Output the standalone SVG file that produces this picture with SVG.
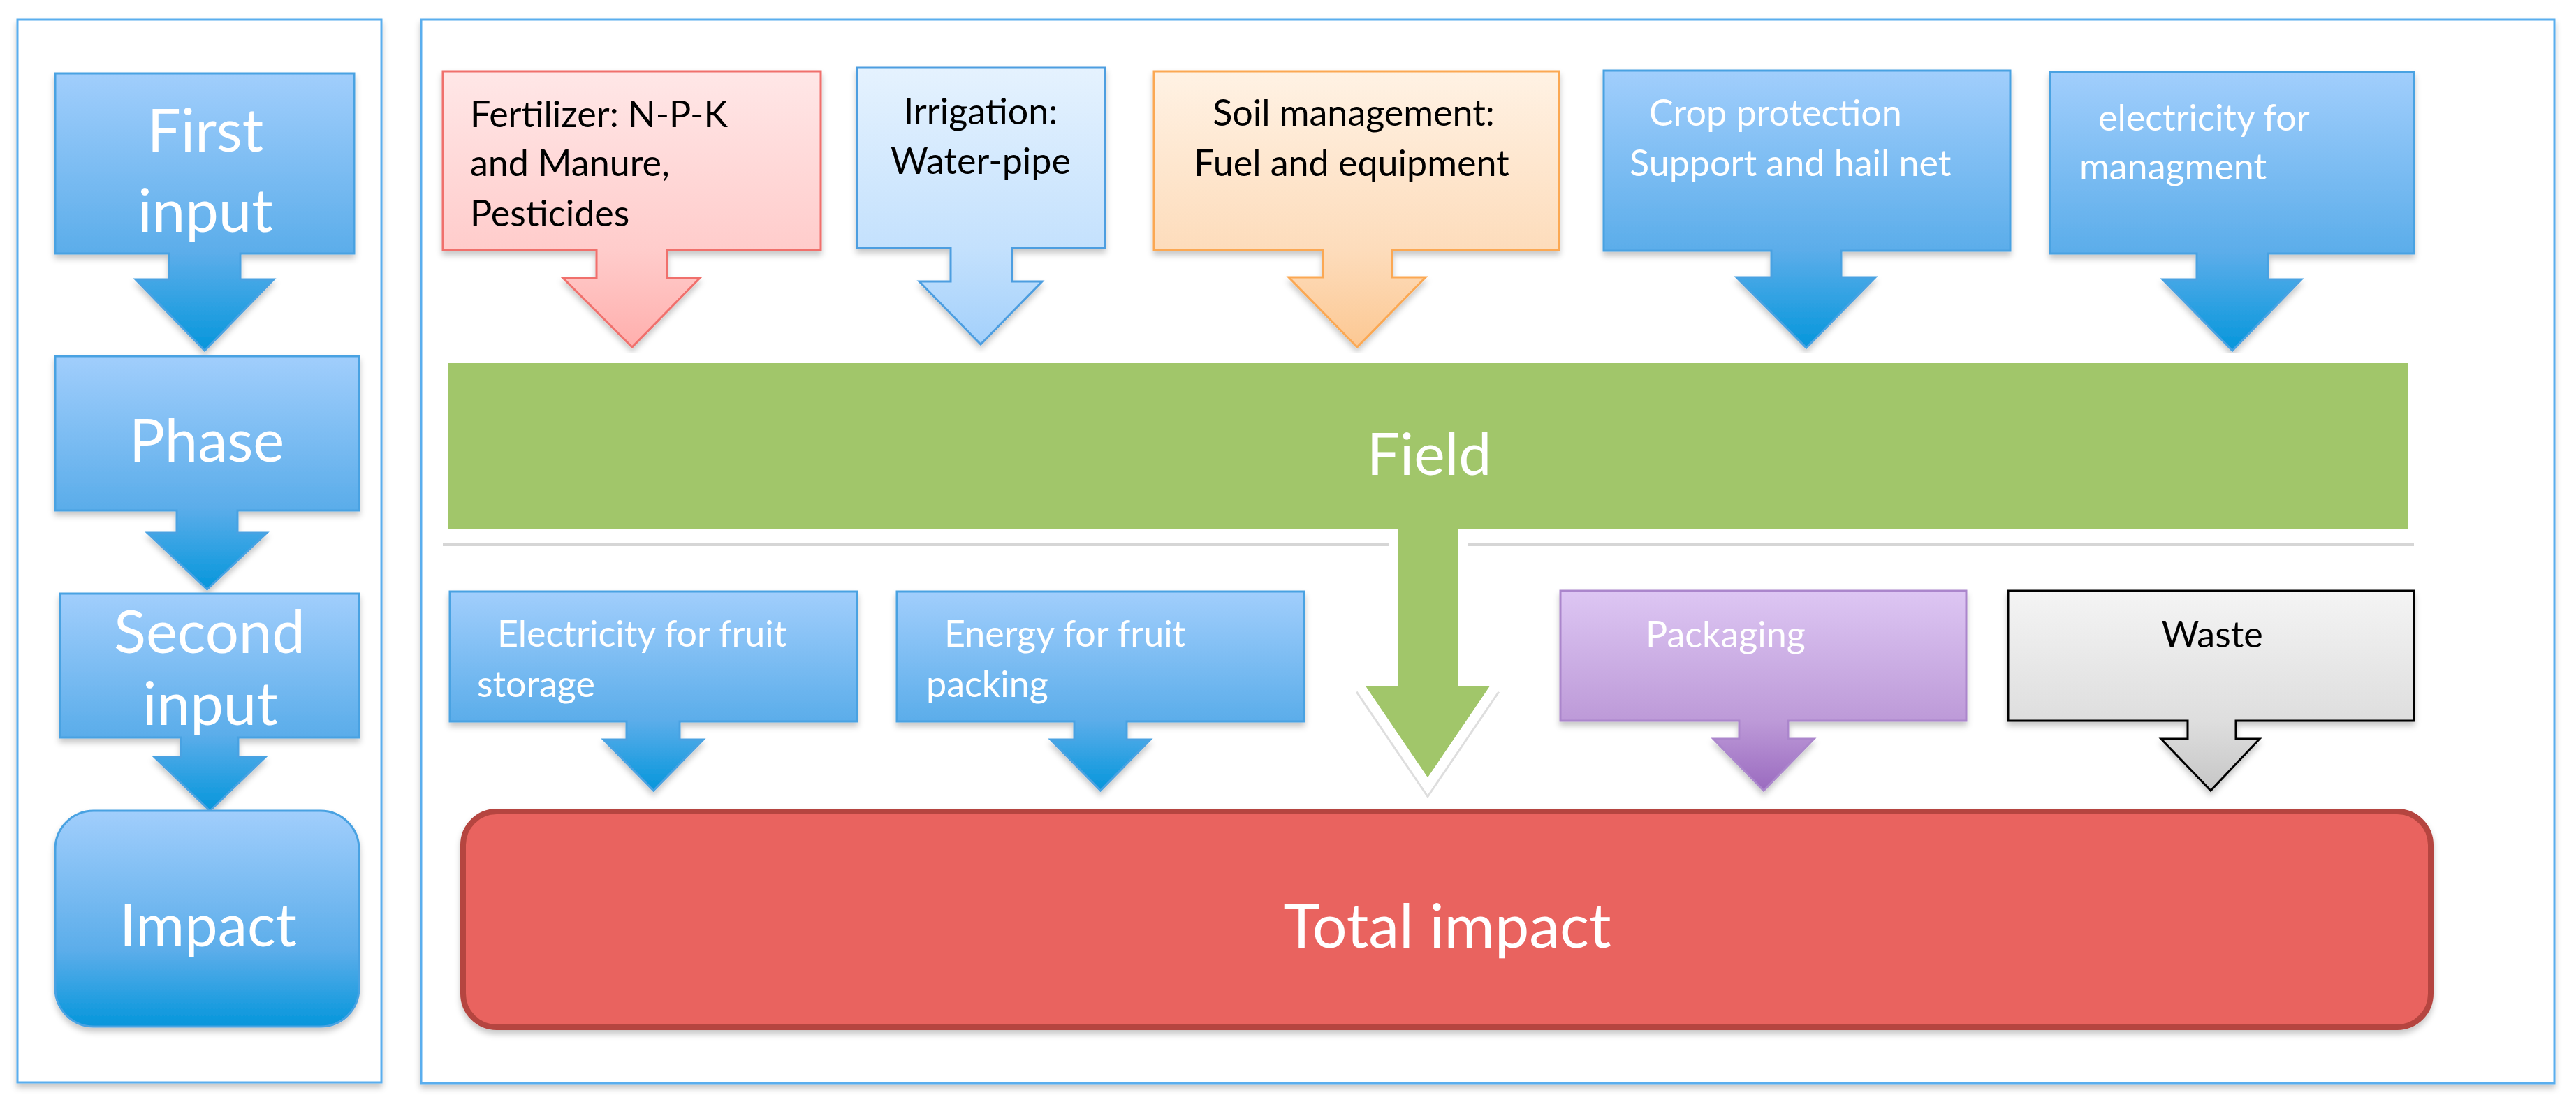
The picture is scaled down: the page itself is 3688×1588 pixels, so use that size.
<svg xmlns="http://www.w3.org/2000/svg" width="3688" height="1588" viewBox="0 0 3688 1588">
<defs>
<linearGradient id="gBlue" x1="0" y1="0" x2="0" y2="1"><stop offset="0" stop-color="#a1cefc"/><stop offset="0.65" stop-color="#5badea"/><stop offset="1" stop-color="#0596db"/></linearGradient>
<linearGradient id="gRed" x1="0" y1="0" x2="0" y2="1"><stop offset="0" stop-color="#ffe7e7"/><stop offset="0.65" stop-color="#ffcccb"/><stop offset="1" stop-color="#ffafad"/></linearGradient>
<linearGradient id="gLblue" x1="0" y1="0" x2="0" y2="1"><stop offset="0" stop-color="#e5f2fe"/><stop offset="0.65" stop-color="#c4e1fd"/><stop offset="1" stop-color="#a3d0fb"/></linearGradient>
<linearGradient id="gOrange" x1="0" y1="0" x2="0" y2="1"><stop offset="0" stop-color="#fff2e4"/><stop offset="0.65" stop-color="#fddcbb"/><stop offset="1" stop-color="#fcc893"/></linearGradient>
<linearGradient id="gPurple" x1="0" y1="0" x2="0" y2="1"><stop offset="0" stop-color="#ddc6f3"/><stop offset="0.65" stop-color="#bd9ad8"/><stop offset="1" stop-color="#9a6abf"/></linearGradient>
<linearGradient id="gGray" x1="0" y1="0" x2="0" y2="1"><stop offset="0" stop-color="#f4f4f4"/><stop offset="0.65" stop-color="#dedede"/><stop offset="1" stop-color="#c6c6c6"/></linearGradient>
<filter id="sh" x="-5%" y="-5%" width="110%" height="115%"><feDropShadow dx="0" dy="6" stdDeviation="4" flood-color="#000" flood-opacity="0.22"/></filter>
</defs>
<style>
.panel{fill:#fff;stroke:#5aaeee;stroke-width:3}
.blue{fill:url(#gBlue);stroke:#4aa2e2;stroke-width:3}
.red{fill:url(#gRed);stroke:#f06f6c;stroke-width:3}
.lblue{fill:url(#gLblue);stroke:#4d9ee0;stroke-width:3}
.orange{fill:url(#gOrange);stroke:#fba852;stroke-width:3}
.purple{fill:url(#gPurple);stroke:#ab86cc;stroke-width:3}
.gray{fill:url(#gGray);stroke:#000;stroke-width:3}
text{font-family:Lato,"Open Sans","Liberation Sans",sans-serif}
.big{font-size:85px;fill:#fff;text-anchor:middle}
.lbl{font-size:52px}
.w{fill:#fff}
.k{fill:#000}
.c{text-anchor:middle}
</style>

<g id="panel-left"><rect class="panel" x="25" y="28" width="521" height="1522" filter="url(#sh)"/></g>
<g id="panel-main"><rect class="panel" x="603" y="28" width="3054" height="1523" filter="url(#sh)"/></g>

<g id="first-input">
<path class="blue" filter="url(#sh)" d="M79,105 H507 V363 H344 V400 H392 L293,502 L194,400 H242 V363 H79 Z"/>
<text class="big" x="294" y="217">First</text>
<text class="big" x="294" y="332">input</text>
</g>
<g id="phase">
<path class="blue" filter="url(#sh)" d="M79,510 H514 V731 H340 V763 H382 L296.5,844 L211,763 H253 V731 H79 Z"/>
<text class="big" x="296" y="661">Phase</text>
</g>
<g id="second-input">
<path class="blue" filter="url(#sh)" d="M86,850 H514 V1056 H341 V1084 H380 L300.5,1161 L221,1084 H259 V1056 H86 Z"/>
<text class="big" x="300" y="935">Second</text>
<text class="big" x="301" y="1038">input</text>
</g>
<g id="impact">
<rect class="blue" filter="url(#sh)" x="79" y="1161" width="435" height="309" rx="55"/>
<text class="big" x="298" y="1355">Impact</text>
</g>

<g id="fertilizer">
<path class="red" filter="url(#sh)" d="M634,102 H1175 V358 H955 V398 H1002 L905,497 L806,398 H854 V358 H634 Z"/>
<text class="lbl k" x="673" y="182">Fertilizer: N-P-K</text>
<text class="lbl k" x="673" y="252">and Manure,</text>
<text class="lbl k" x="673" y="324">Pesticides</text>
</g>
<g id="irrigation">
<path class="lblue" filter="url(#sh)" d="M1227,97 H1582 V355 H1449 V403 H1492 L1404,493 L1316,403 H1361 V355 H1227 Z"/>
<text class="lbl k c" x="1404" y="178">Irrigation:</text>
<text class="lbl k c" x="1404" y="249">Water-pipe</text>
</g>
<g id="soil">
<path class="orange" filter="url(#sh)" d="M1652,102 H2232 V358 H1993 V397 H2041 L1943,497 L1845,397 H1894 V358 H1652 Z"/>
<text class="lbl k c" x="1938" y="180">Soil management:</text>
<text class="lbl k c" x="1935" y="252">Fuel and equipment</text>
</g>
<g id="crop-protection">
<path class="blue" filter="url(#sh)" d="M2296,101 H2878 V359 H2636 V397 H2685 L2586,498 L2486,397 H2536 V359 H2296 Z"/>
<text class="lbl w" x="2361" y="180">Crop protection</text>
<text class="lbl w" x="2333" y="252">Support and hail net</text>
</g>
<g id="electricity-management">
<path class="blue" filter="url(#sh)" d="M2935,103 H3456 V363 H3247 V400 H3295 L3196,502 L3096,400 H3145 V363 H2935 Z"/>
<text class="lbl w" x="3004" y="187">electricity for</text>
<text class="lbl w" x="2977" y="257">managment</text>
</g>

<g id="field">
<line x1="634" y1="780" x2="3456" y2="780" stroke="#d6d6d6" stroke-width="4"/>
<path d="M1955,982 L2044,1113 L2133,982" fill="none" stroke="#dedede" stroke-width="34" stroke-linejoin="miter"/>
<path d="M641,520 H3447 V758 H2087 V982 H2133 L2044,1113 L1955,982 H2002 V758 H641 Z" fill="#a1c66a" stroke="#fff" stroke-width="28" stroke-linejoin="miter" paint-order="stroke"/>
<path d="M641,520 H3447 V758 H2087 V982 H2133 L2044,1113 L1955,982 H2002 V758 H641 Z" fill="#a1c66a"/>
<text x="2046" y="680" font-size="84" fill="#fff" text-anchor="middle">Field</text>
</g>

<g id="electricity-storage">
<path class="blue" filter="url(#sh)" d="M644,847 H1227 V1033 H973 V1059 H1007 L935.5,1132 L864,1059 H897 V1033 H644 Z"/>
<text class="lbl w" x="712" y="926">Electricity for fruit</text>
<text class="lbl w" x="683" y="998">storage</text>
</g>
<g id="energy-packing">
<path class="blue" filter="url(#sh)" d="M1284,847 H1867 V1033 H1613 V1059 H1647 L1575.5,1132 L1504,1059 H1538 V1033 H1284 Z"/>
<text class="lbl w" x="1352" y="926">Energy for fruit</text>
<text class="lbl w" x="1326" y="998">packing</text>
</g>
<g id="packaging">
<path class="purple" filter="url(#sh)" d="M2234,846 H2815 V1032 H2560 V1058 H2597 L2525,1132 L2453,1058 H2490 V1032 H2234 Z"/>
<text class="lbl w" x="2356" y="927">Packaging</text>
</g>
<g id="waste">
<path class="gray" filter="url(#sh)" d="M2875,846 H3456 V1032 H3201 V1058 H3235 L3165,1132 L3094,1058 H3132 V1032 H2875 Z"/>
<text class="lbl k c" x="3167" y="927">Waste</text>
</g>

<g id="total-impact">
<rect x="663" y="1162" width="2817" height="309" rx="48" fill="#e9645e" stroke="#b5453f" stroke-width="8" filter="url(#sh)"/>
<text x="2072" y="1357" font-size="88" fill="#fff" text-anchor="middle">Total impact</text>
</g>

<g id="connectors"></g>
</svg>
